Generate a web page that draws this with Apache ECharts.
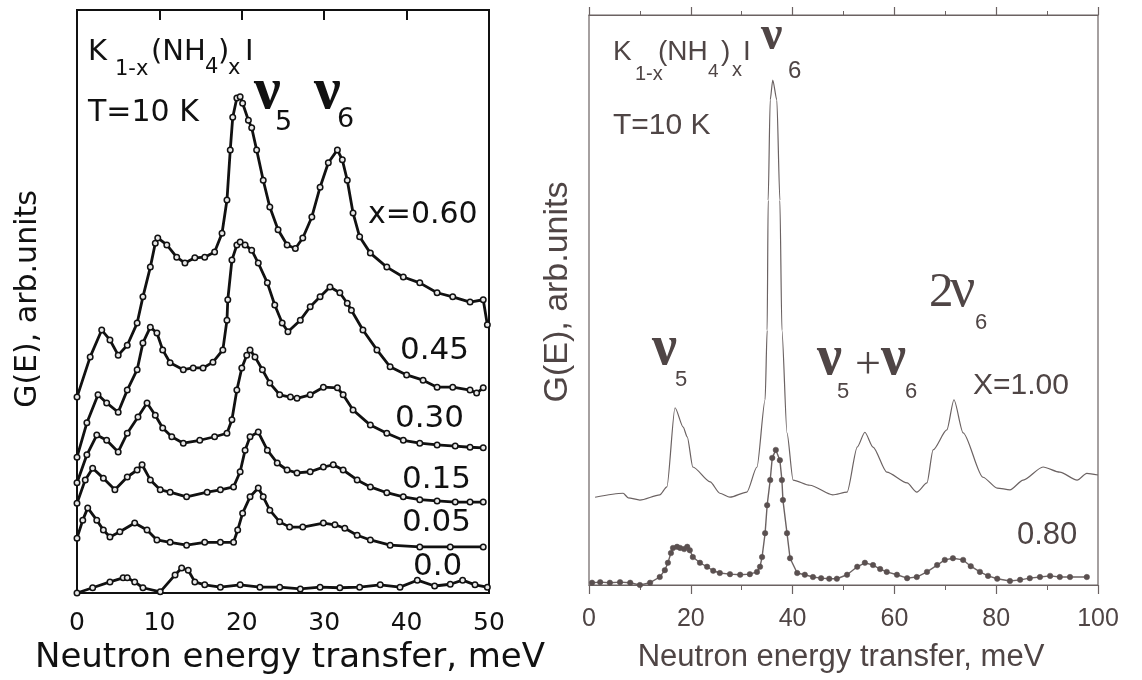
<!DOCTYPE html>
<html>
<head>
<meta charset="utf-8">
<script src="https://cdn.jsdelivr.net/npm/echarts@6/dist/echarts.min.js"></script>
<style>
  html, body { margin: 0; padding: 0; background: #ffffff; }
  #chart { width: 1142px; height: 680px; }
</style>
</head>
<body>
<div id="chart"></div>
<script>
// ---- Left panel: K(1-x)(NH4)xI, T = 10 K, energies 0-50 meV (curves stacked by offset) ----
const eX060 = [0, 1.6, 3.0, 4.0, 5.0, 6.1, 7.3, 8.0, 8.9, 9.5, 9.8, 10.9, 12.1, 13.1, 14.3, 15.5, 16.7, 17.6, 18.2, 18.6, 18.9, 19.4, 19.8, 20.1, 20.8, 21.2, 21.8, 22.6, 23.4, 24.4, 25.5, 26.5, 27.4, 28.5, 29.5, 30.5, 31.6, 32.2, 32.8, 33.5, 34.3, 35.6, 37.6, 39.6, 41.6, 43.7, 45.6, 47.7, 49.3, 49.8];
const gX060 = [33.6, 40.5, 45.1, 43.4, 40.8, 42.5, 46.3, 50.8, 55.9, 60.0, 60.9, 59.7, 57.6, 56.6, 57.5, 57.6, 58.5, 61.7, 67.4, 76.0, 81.6, 84.9, 85.1, 84.0, 81.1, 79.8, 76.0, 70.8, 66.2, 62.3, 59.7, 59.1, 60.9, 64.5, 69.6, 73.8, 76.0, 74.3, 70.8, 65.2, 61.1, 58.3, 55.9, 54.2, 53.2, 51.5, 50.8, 49.9, 50.3, 46.0];

const eX045 = [0, 1.2, 2.55, 3.6, 5.0, 6.1, 7.3, 8.0, 8.9, 9.7, 10.4, 11.3, 12.9, 14.1, 15.3, 16.5, 17.7, 18.2, 18.3, 18.8, 19.4, 19.8, 20.4, 21.2, 22.0, 23.1, 24.0, 24.9, 25.6, 27.1, 28.3, 29.5, 30.7, 31.9, 32.8, 33.3, 34.7, 36.4, 38.0, 40.0, 42.0, 43.7, 45.6, 47.7, 48.5, 49.3];
const gX045 = [23.3, 29.2, 34.0, 32.6, 31.0, 34.8, 38.3, 42.9, 45.6, 44.6, 41.7, 39.5, 38.3, 38.6, 38.6, 39.6, 41.7, 46.8, 50.3, 57.1, 59.7, 60.2, 59.7, 58.8, 56.6, 53.2, 49.4, 46.3, 44.8, 46.8, 49.1, 50.8, 52.5, 51.5, 49.7, 48.5, 45.1, 41.7, 38.8, 37.4, 36.5, 35.3, 35.3, 34.8, 34.3, 35.2];

const eX030 = [0, 1.2, 2.4, 3.6, 5.0, 6.1, 7.4, 8.5, 9.5, 10.4, 11.5, 12.9, 14.9, 16.7, 18.2, 18.8, 19.4, 20.0, 20.6, 21.0, 21.6, 22.5, 23.4, 24.6, 25.9, 26.7, 28.3, 29.9, 31.6, 32.3, 33.5, 35.6, 37.6, 39.6, 41.6, 43.7, 45.9, 47.7, 49.3];
const gX030 = [18.9, 23.7, 27.1, 26.2, 24.2, 27.4, 30.2, 32.6, 30.5, 28.3, 26.8, 25.7, 26.2, 26.8, 27.4, 29.7, 34.8, 38.6, 40.8, 41.7, 40.5, 38.3, 36.0, 34.0, 33.6, 33.4, 34.0, 35.3, 35.2, 34.0, 31.4, 28.8, 27.4, 26.2, 25.7, 25.4, 25.2, 25.0, 24.9];

const eX015 = [0, 1.0, 1.9, 3.2, 4.6, 6.1, 7.3, 7.9, 8.9, 10.1, 11.3, 13.3, 15.8, 17.4, 19.0, 19.8, 20.4, 21.0, 22.0, 23.1, 24.3, 25.5, 26.7, 28.3, 29.9, 31.1, 32.3, 34.0, 35.6, 37.6, 39.6, 41.6, 43.7, 45.9, 47.7, 49.3];
const gX015 = [15.4, 19.4, 21.4, 19.7, 17.7, 19.9, 21.1, 22.0, 19.4, 17.7, 17.3, 16.5, 17.3, 17.7, 18.2, 20.8, 24.5, 26.8, 27.6, 24.5, 22.3, 21.1, 20.6, 20.8, 21.6, 22.0, 21.1, 19.4, 18.2, 17.2, 16.5, 16.0, 15.8, 15.6, 15.6, 15.6];

const eX005 = [0, 0.7, 1.3, 2.4, 3.2, 4.0, 5.2, 7.0, 8.5, 9.7, 11.3, 13.3, 15.5, 17.4, 19.0, 19.5, 20.1, 21.0, 22.0, 22.6, 23.4, 24.6, 25.8, 27.4, 29.9, 31.3, 32.5, 34.0, 35.6, 38.0, 41.6, 45.3, 49.3];
const gX005 = [9.4, 12.5, 14.6, 12.5, 10.8, 9.6, 10.5, 12.0, 10.8, 9.1, 8.7, 8.2, 8.7, 8.7, 8.7, 10.8, 13.7, 16.5, 18.0, 16.5, 14.2, 12.2, 11.3, 11.3, 12.0, 11.7, 11.1, 9.9, 9.1, 8.2, 7.9, 7.9, 7.9];

const eX000 = [0, 1.9, 4.0, 5.6, 6.1, 7.0, 8.0, 10.1, 11.9, 12.7, 13.5, 14.3, 15.5, 17.4, 19.8, 22.2, 24.6, 27.1, 29.5, 31.9, 34.3, 36.8, 39.2, 41.3, 43.4, 45.3, 46.8, 48.3, 49.8];
const gX000 = [0, 0.9, 1.9, 2.6, 2.6, 1.9, 0.9, 0.2, 3.1, 4.3, 3.9, 1.9, 1.4, 1.0, 1.4, 1.0, 1.0, 0.7, 1.0, 0.9, 1.0, 1.4, 1.0, 2.2, 1.2, 1.5, 2.2, 1.4, 1.0];

// ---- Right panel: energies 0-100 meV ----
const eX100 = [1.2, 6.7, 7.7, 10.0, 13.9, 15.3, 16.9, 18.5, 19.3, 20.4, 23.8, 25.7, 27.7, 31.0, 33.0, 34.6, 35.0, 35.2, 35.6, 36.1, 36.9, 37.5, 37.9, 38.9, 40.1, 43.4, 47.9, 50.7, 52.7, 54.2, 55.8, 58.5, 62.5, 64.4, 66.4, 67.6, 70.3, 71.7, 73.5, 77.4, 80.2, 82.7, 85.3, 89.2, 92.5, 95.9, 97.8, 100];
const gX100 = [15.4, 16.1, 15.3, 14.9, 15.8, 17.2, 31.1, 27.7, 26.0, 20.7, 18.1, 16.1, 15.4, 16.3, 20.7, 32.5, 44.7, 67.5, 85.1, 88.6, 85.1, 67.5, 44.7, 26.7, 18.4, 17.5, 15.8, 16.3, 24.2, 26.8, 24.2, 19.8, 17.9, 16.3, 17.9, 23.7, 27.2, 32.5, 26.7, 18.9, 17.0, 16.7, 18.4, 20.7, 19.8, 18.4, 19.6, 19.3];

const eX080 = [0.6, 2.2, 4.1, 6.1, 8.1, 10.0, 12.0, 13.9, 14.9, 15.5, 16.1, 16.5, 17.3, 17.9, 18.7, 19.3, 19.8, 20.4, 21.8, 23.2, 24.4, 25.7, 27.7, 29.7, 31.6, 33.0, 33.6, 34.0, 34.6, 35.0, 35.6, 36.0, 36.7, 37.5, 37.9, 38.1, 38.9, 39.5, 40.9, 42.4, 44.0, 45.6, 47.2, 48.7, 50.7, 52.7, 54.2, 55.8, 57.2, 58.5, 60.5, 62.5, 64.4, 66.4, 68.4, 69.9, 71.5, 73.5, 75.0, 76.8, 78.4, 80.2, 82.7, 84.7, 86.6, 88.6, 90.6, 92.5, 94.5, 97.8];
const gX080 = [0.4, 0.5, 0.4, 0.5, 0.4, 0.0, 0.4, 1.4, 2.6, 3.9, 5.6, 6.5, 6.7, 6.5, 6.3, 6.7, 6.1, 4.9, 3.9, 3.2, 2.5, 2.1, 1.9, 1.8, 1.9, 2.3, 3.2, 4.9, 9.1, 14.0, 18.4, 22.3, 23.7, 21.9, 18.4, 14.9, 9.1, 4.7, 2.1, 1.8, 1.4, 1.2, 1.1, 1.1, 1.8, 3.2, 3.9, 3.5, 2.8, 2.3, 1.8, 1.2, 1.4, 2.3, 3.5, 4.4, 4.7, 4.4, 3.3, 2.3, 1.6, 1.1, 0.7, 0.9, 1.2, 1.4, 1.6, 1.4, 1.4, 1.4];

const leftTicks = [0, 10, 20, 30, 40, 50];
const rightTicks = [0, 20, 40, 60, 80, 100];

const pairs = (xs, ys) => xs.map((x, i) => [x, ys[i]]);

const INK = '#111111';
const GREY = '#4f4545';
const GREY_LINE = '#6b6262';

function leftSeries(name, xs, ys) {
  return {
    name, type: 'line', xAxisIndex: 0, yAxisIndex: 0,
    data: pairs(xs, ys),
    symbol: 'circle', symbolSize: 5.5, showAllSymbol: true,
    itemStyle: { color: '#e8e8e8', borderColor: INK, borderWidth: 1.5 },
    lineStyle: { color: INK, width: 2.8 },
    animation: false, silent: true
  };
}

// Text pieces (formula, peak assignments, curve labels)
function txt(x, y, text, size, family, color, weight) {
  return {
    type: 'text', x, y, silent: true,
    style: {
      text, fill: color, fontSize: size, fontFamily: family, fontWeight: weight || 'normal',
      align: 'left', verticalAlign: 'middle'
    }
  };
}
const SANS_L = '"DejaVu Sans", sans-serif';
const SANS_R = '"Liberation Sans", Arial, sans-serif';
const SERIF = '"Liberation Serif", "Times New Roman", serif';

// serif nu placed by its baseline
function nu(x, baseline, size, color, weight) {
  return txt(x, baseline - 0.3375 * size, 'ν', size, SERIF, color, weight || 'bold');
}

const graphics = [
  // left panel formula
  txt(88, 52, 'K', 29, SANS_L, INK),
  txt(115, 70, '1-x', 21, SANS_L, INK),
  txt(151, 52, '(NH', 29, SANS_L, INK),
  txt(205, 68, '4', 21, SANS_L, INK),
  txt(218, 52, ')', 29, SANS_L, INK),
  txt(228, 69, 'x', 21, SANS_L, INK),
  txt(245, 52, 'I', 29, SANS_L, INK),
  txt(88, 113, 'T=10 K', 30, SANS_L, INK),
  nu(254, 113, 60, INK),
  txt(275, 123, '5', 27, SANS_L, INK),
  nu(314, 113, 60, INK),
  txt(337, 120, '6', 27, SANS_L, INK),
  txt(368, 215, 'x=0.60', 30, SANS_L, INK),
  txt(400, 351, '0.45', 31, SANS_L, INK),
  txt(395, 419, '0.30', 31, SANS_L, INK),
  txt(402, 480, '0.15', 31, SANS_L, INK),
  txt(402, 523, '0.05', 31, SANS_L, INK),
  txt(413, 567, '0.0', 31, SANS_L, INK),

  // right panel formula and assignments
  txt(613, 52, 'K', 28, SANS_R, GREY),
  txt(635, 74, '1-x', 20, SANS_R, GREY),
  txt(658, 52, '(NH', 28, SANS_R, GREY),
  txt(708, 72, '4', 19, SANS_R, GREY),
  txt(721, 52, ')', 28, SANS_R, GREY),
  txt(732, 70, 'x', 20, SANS_R, GREY),
  txt(743, 52, 'I', 28, SANS_R, GREY),
  nu(761, 53, 48, GREY),
  txt(788, 71, '6', 24, SANS_R, GREY),
  txt(613, 126, 'T=10 K', 30, SANS_R, GREY),
  nu(652, 368, 56, GREY),
  txt(675, 380, '5', 22, SANS_R, GREY),
  nu(817, 378, 56, GREY),
  txt(837, 392, '5', 22, SANS_R, GREY),
  txt(855, 366, '+', 46, SERIF, GREY),
  nu(881, 378, 56, GREY),
  txt(905, 392, '6', 22, SANS_R, GREY),
  txt(929, 310 - 0.3375 * 49, '2', 49, SERIF, GREY),
  nu(950, 310, 56, GREY, 'normal'),
  txt(975, 323, '6', 22, SANS_R, GREY),
  txt(973, 386, 'X=1.00', 30, SANS_R, GREY),
  txt(1017, 535, '0.80', 31, SANS_R, GREY),

  // axis titles
  { type: 'text', x: 290, y: 658, silent: true,
    style: { text: 'Neutron energy transfer, meV', fill: INK, fontSize: 34, fontFamily: SANS_L, align: 'center', verticalAlign: 'middle' } },
  { type: 'text', x: 841, y: 657, silent: true,
    style: { text: 'Neutron energy transfer, meV', fill: GREY, fontSize: 31, fontFamily: SANS_R, align: 'center', verticalAlign: 'middle' } },
  { type: 'text', x: 28, y: 299, rotation: Math.PI / 2, silent: true,
    style: { text: 'G(E), arb.units', fill: INK, fontSize: 30, fontFamily: SANS_L, align: 'center', verticalAlign: 'middle' } },
  { type: 'text', x: 558, y: 292, rotation: Math.PI / 2, silent: true,
    style: { text: 'G(E), arb.units', fill: GREY, fontSize: 34, fontFamily: SANS_R, align: 'center', verticalAlign: 'middle' } }
];

const chart = echarts.init(document.getElementById('chart'), null, { renderer: 'canvas' });

chart.setOption({
  backgroundColor: '#ffffff',
  animation: false,
  grid: [
    { left: 77, top: 10, width: 412, height: 583, show: true, borderColor: INK, borderWidth: 2, backgroundColor: 'transparent' },
    { left: 589, top: 15, width: 509, height: 570, show: true, borderColor: GREY_LINE, borderWidth: 1.2, backgroundColor: 'transparent' }
  ],
  xAxis: [
    { gridIndex: 0, type: 'value', position: 'bottom', min: 0, max: 50, interval: 10,
      axisLine: { show: false }, axisTick: { show: false }, splitLine: { show: false },
      axisLabel: { color: INK, fontSize: 25, fontFamily: SANS_L, margin: 18,
        customValues: leftTicks, formatter: v => String(v) } },
    { gridIndex: 0, type: 'value', position: 'top', min: 0, max: 50, interval: 10,
      axisLine: { show: false }, splitLine: { show: false }, axisLabel: { show: false },
      axisTick: { show: true, inside: true, length: 10, lineStyle: { color: INK, width: 2 } } },
    { gridIndex: 1, type: 'value', position: 'bottom', min: 0, max: 100, interval: 20,
      axisLine: { show: true, lineStyle: { color: GREY_LINE, width: 1.2 } },
      axisTick: { show: true, inside: false, length: 9, lineStyle: { color: GREY_LINE, width: 1.2 } },
      minorTick: { show: true, splitNumber: 2, length: 5, lineStyle: { color: GREY_LINE, width: 1 } },
      splitLine: { show: false },
      axisLabel: { color: GREY, fontSize: 25, fontFamily: SANS_R, margin: 22,
        customValues: rightTicks, formatter: v => String(v) } },
    { gridIndex: 1, type: 'value', position: 'top', min: 0, max: 100, interval: 20,
      axisLine: { show: true, lineStyle: { color: GREY_LINE, width: 1.2 } },
      axisTick: { show: true, inside: false, length: 8, lineStyle: { color: GREY_LINE, width: 1.2 } },
      minorTick: { show: true, splitNumber: 2, length: 4, lineStyle: { color: GREY_LINE, width: 1 } },
      splitLine: { show: false }, axisLabel: { show: false } }
  ],
  yAxis: [
    { gridIndex: 0, type: 'value', min: 0, max: 100, show: false },
    { gridIndex: 1, type: 'value', min: 0, max: 100, show: false }
  ],
  series: [
    leftSeries('x=0.60', eX060, gX060),
    leftSeries('0.45', eX045, gX045),
    leftSeries('0.30', eX030, gX030),
    leftSeries('0.15', eX015, gX015),
    leftSeries('0.05', eX005, gX005),
    leftSeries('0.0', eX000, gX000),
    { name: 'X=1.00', type: 'line', xAxisIndex: 2, yAxisIndex: 1, data: pairs(eX100, gX100),
      showSymbol: false, symbol: 'none', smooth: 0.25, smoothMonotone: 'x',
      lineStyle: { color: GREY_LINE, width: 1.2 }, silent: true },
    { name: '0.80', type: 'line', xAxisIndex: 2, yAxisIndex: 1, data: pairs(eX080, gX080),
      symbol: 'circle', symbolSize: 5.5, showAllSymbol: true,
      itemStyle: { color: '#5a5050', borderColor: '#5a5050', borderWidth: 0.5 },
      lineStyle: { color: GREY_LINE, width: 1.4 }, silent: true }
  ],
  graphic: graphics
});
</script>
</body>
</html>
